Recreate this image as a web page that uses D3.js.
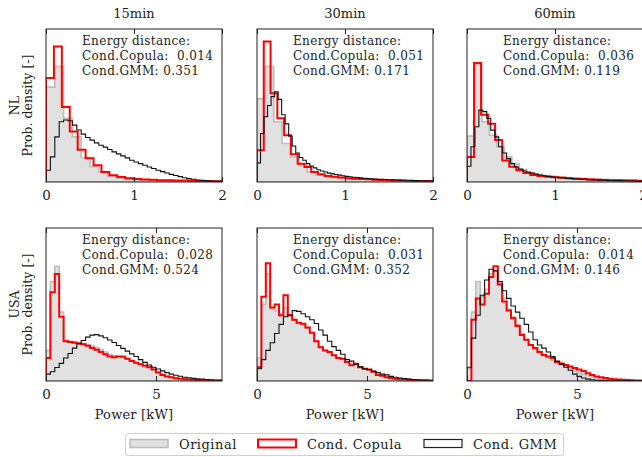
<!DOCTYPE html>
<html><head><meta charset="utf-8">
<script src="https://cdn.jsdelivr.net/npm/d3@7"></script>
<style>
body{margin:0;background:#fff}
svg{display:block}
text{font-family:"DejaVu Serif",serif;fill:#222;white-space:pre}
</style>
</head><body>
<svg id="chart" width="642" height="457"></svg>
<script>
// ---------------- DATA ----------------
const intervals = ["15min", "30min", "60min"];
const regions = ["NL", "USA"];
const seriesNames = ["Original", "Cond. Copula", "Cond. GMM"];
const copulaDistance = [[0.014, 0.051, 0.036], [0.028, 0.031, 0.014]];
const gmmDistance = [[0.351, 0.171, 0.119], [0.524, 0.352, 0.146]];
const xMaxByRegion = [2, 8];
const xTicksByRegion = [[0, 1, 2], [0, 5]];

// bin widths (kW)
const nlBinOrig = [0.1, 0.095, 0.085];
const nlBinCopula = [0.09, 0.077, 0.08];
const nlBinGmm = [0.05, 0.04, 0.045];
const usaBin = 0.2;

// densities (relative), bins start at 0
const nl15Orig = [0.62, 0.755, 0.416, 0.295, 0.16, 0.1, 0.066, 0.037, 0.025, 0.018, 0.015, 0.012, 0.011, 0.01, 0.009, 0.008, 0.007, 0.006, 0.005, 0.004];
const nl15Copula = [0.68, 0.886, 0.49, 0.33, 0.21, 0.155, 0.11, 0.066, 0.044, 0.033, 0.024, 0.02, 0.016, 0.014, 0.012, 0.011, 0.01, 0.009, 0.008, 0.007, 0.006, 0.005, 0.005];
const nl15Gmm = [0.077, 0.164, 0.295, 0.394, 0.405, 0.40, 0.372, 0.34, 0.313, 0.291, 0.274, 0.256, 0.24, 0.228, 0.212, 0.197, 0.184, 0.171, 0.158, 0.142, 0.131, 0.12, 0.109, 0.098, 0.088, 0.077, 0.068, 0.059, 0.05, 0.042, 0.035, 0.028, 0.022, 0.018, 0.013, 0.011, 0.009, 0.007, 0.004, 0.004];

const nl30Orig = [0.543, 0.755, 0.394, 0.252, 0.164, 0.109, 0.066, 0.044, 0.035, 0.028, 0.024, 0.02, 0.018, 0.016, 0.014, 0.012, 0.011, 0.01, 0.009, 0.008, 0.007, 0.006];
const nl30Copula = [0.208, 0.919, 0.58, 0.416, 0.306, 0.182, 0.12, 0.098, 0.066, 0.05, 0.04, 0.035, 0.03, 0.025, 0.022, 0.02, 0.018, 0.015, 0.013, 0.011, 0.01, 0.009, 0.008, 0.007, 0.006, 0.006, 0.005];
const nl30Gmm = [0.125, 0.317, 0.427, 0.5, 0.558, 0.59, 0.54, 0.44, 0.38, 0.3, 0.235, 0.19, 0.16, 0.142, 0.12, 0.105, 0.092, 0.08, 0.072, 0.065, 0.058, 0.053, 0.049, 0.045, 0.041, 0.037, 0.034, 0.031, 0.029, 0.027, 0.025, 0.023, 0.021, 0.019, 0.018, 0.017, 0.016, 0.015, 0.014, 0.013, 0.012, 0.011, 0.01, 0.01, 0.009, 0.009, 0.008, 0.008, 0.007, 0.007];

const nl60Orig = [0.30, 0.766, 0.394, 0.306, 0.23, 0.164, 0.12, 0.081, 0.06, 0.05, 0.042, 0.037, 0.033, 0.029, 0.026, 0.024, 0.022, 0.02, 0.018, 0.016, 0.015, 0.013, 0.012, 0.011, 0.01];
const nl60Copula = [0.164, 0.777, 0.44, 0.38, 0.274, 0.14, 0.1, 0.077, 0.059, 0.046, 0.04, 0.035, 0.031, 0.027, 0.024, 0.022, 0.02, 0.017, 0.015, 0.013, 0.012, 0.011, 0.01, 0.009, 0.007, 0.005];
const nl60Gmm = [0.103, 0.23, 0.361, 0.47, 0.46, 0.416, 0.339, 0.295, 0.23, 0.19, 0.153, 0.12, 0.098, 0.085, 0.072, 0.065, 0.058, 0.052, 0.046, 0.041, 0.037, 0.034, 0.031, 0.028, 0.026, 0.024, 0.022, 0.02, 0.018, 0.017, 0.015, 0.014, 0.013, 0.012, 0.011, 0.01, 0.01, 0.009, 0.009, 0.008, 0.008, 0.007, 0.007, 0.006, 0.006];

const usa15Orig = [0.2, 0.65, 0.75, 0.45, 0.267, 0.26, 0.256, 0.252, 0.245, 0.239, 0.228, 0.219, 0.206, 0.19, 0.173, 0.164, 0.158, 0.162, 0.147, 0.133, 0.118, 0.112, 0.103, 0.092, 0.077, 0.059, 0.042, 0.031, 0.024, 0.02, 0.015, 0.013, 0.011, 0.009, 0.007, 0.004, 0.004, 0.002, 0.002, 0.002];
const usa15Copula = [0.15, 0.58, 0.70, 0.42, 0.26, 0.255, 0.25, 0.245, 0.24, 0.23, 0.215, 0.205, 0.19, 0.175, 0.16, 0.155, 0.16, 0.158, 0.145, 0.13, 0.12, 0.11, 0.1, 0.09, 0.075, 0.055, 0.04, 0.03, 0.024, 0.018, 0.015, 0.012, 0.01, 0.008, 0.006, 0.004, 0.004, 0.003, 0.002, 0.002];
const usa15Gmm = [0.045, 0.06, 0.088, 0.115, 0.15, 0.18, 0.215, 0.243, 0.265, 0.287, 0.3, 0.303, 0.295, 0.283, 0.268, 0.252, 0.232, 0.213, 0.195, 0.177, 0.16, 0.14, 0.122, 0.105, 0.09, 0.078, 0.066, 0.055, 0.045, 0.038, 0.031, 0.025, 0.021, 0.017, 0.014, 0.012, 0.01, 0.008, 0.007, 0.006];

const usa30Orig = [0.15, 0.5, 0.7, 0.47, 0.46, 0.44, 0.48, 0.43, 0.40, 0.375, 0.37, 0.345, 0.31, 0.26, 0.225, 0.2, 0.19, 0.17, 0.152, 0.142, 0.125, 0.108, 0.108, 0.09, 0.08, 0.072, 0.058, 0.042, 0.035, 0.026, 0.02, 0.015, 0.012, 0.01, 0.008, 0.006, 0.005, 0.004, 0.003, 0.002];
const usa30Copula = [0.09, 0.55, 0.77, 0.48, 0.5, 0.43, 0.56, 0.43, 0.40, 0.38, 0.375, 0.35, 0.315, 0.26, 0.22, 0.2, 0.19, 0.168, 0.15, 0.145, 0.125, 0.103, 0.112, 0.09, 0.08, 0.075, 0.06, 0.04, 0.035, 0.025, 0.02, 0.015, 0.012, 0.01, 0.008, 0.006, 0.005, 0.004, 0.003, 0.002];
const usa30Gmm = [0.08, 0.14, 0.2, 0.25, 0.31, 0.37, 0.42, 0.43, 0.46, 0.455, 0.44, 0.42, 0.4, 0.376, 0.333, 0.3, 0.26, 0.225, 0.2, 0.175, 0.14, 0.13, 0.11, 0.092, 0.08, 0.075, 0.065, 0.055, 0.045, 0.04, 0.03, 0.025, 0.02, 0.016, 0.012, 0.01, 0.008, 0.007, 0.006, 0.005];

const usa60Orig = [0.08, 0.45, 0.65, 0.55, 0.6, 0.7, 0.72, 0.64, 0.54, 0.47, 0.42, 0.37, 0.31, 0.27, 0.235, 0.21, 0.185, 0.165, 0.15, 0.135, 0.12, 0.105, 0.095, 0.085, 0.07, 0.055, 0.045, 0.035, 0.027, 0.02, 0.015, 0.012, 0.009, 0.007, 0.005, 0.004, 0.003, 0.002, 0.002, 0.001];
const usa60Copula = [0.0, 0.4, 0.54, 0.5, 0.57, 0.68, 0.75, 0.63, 0.52, 0.46, 0.41, 0.36, 0.3, 0.27, 0.235, 0.215, 0.19, 0.17, 0.16, 0.15, 0.125, 0.115, 0.105, 0.095, 0.085, 0.075, 0.065, 0.05, 0.04, 0.03, 0.024, 0.02, 0.015, 0.012, 0.01, 0.008, 0.006, 0.005, 0.004, 0.003];
const usa60Gmm = [0.09, 0.28, 0.43, 0.56, 0.66, 0.73, 0.72, 0.65, 0.59, 0.54, 0.49, 0.45, 0.41, 0.37, 0.32, 0.27, 0.235, 0.215, 0.19, 0.16, 0.13, 0.11, 0.09, 0.07, 0.045, 0.03, 0.02, 0.012, 0.008, 0.005, 0.004, 0.003, 0.002, 0.002, 0.001, 0.001, 0.001, 0.001, 0.001, 0.001];

const histData = [
  [
    {orig: [nlBinOrig[0], nl15Orig], cop: [nlBinCopula[0], nl15Copula], gmm: [nlBinGmm[0], nl15Gmm]},
    {orig: [nlBinOrig[1], nl30Orig], cop: [nlBinCopula[1], nl30Copula], gmm: [nlBinGmm[1], nl30Gmm]},
    {orig: [nlBinOrig[2], nl60Orig], cop: [nlBinCopula[2], nl60Copula], gmm: [nlBinGmm[2], nl60Gmm]}
  ],
  [
    {orig: [usaBin, usa15Orig], cop: [usaBin, usa15Copula], gmm: [usaBin, usa15Gmm]},
    {orig: [usaBin, usa30Orig], cop: [usaBin, usa30Copula], gmm: [usaBin, usa30Gmm]},
    {orig: [usaBin, usa60Orig], cop: [usaBin, usa60Copula], gmm: [usaBin, usa60Gmm]}
  ]
];

// ---------------- LAYOUT ----------------
const svg = d3.select("#chart");
const colX = [46, 257, 467];
const rowY = [29, 228];
const pw = 176, ph = 153;
const yTop = 1.0;

function stepPoints(bw, vals) {
  const pts = [[0, 0]];
  vals.forEach((v, i) => { pts.push([i * bw, v]); pts.push([(i + 1) * bw, v]); });
  pts.push([vals.length * bw, 0]);
  return pts;
}

const defs = svg.append("defs");

regions.forEach((reg, r) => {
  intervals.forEach((intv, c) => {
    const x0 = colX[c], y0 = rowY[r];
    const x = d3.scaleLinear().domain([0, xMaxByRegion[r]]).range([x0, x0 + pw]);
    const y = d3.scaleLinear().domain([0, yTop]).range([y0 + ph, y0]);
    const clipId = `clip-${r}-${c}`;
    defs.append("clipPath").attr("id", clipId)
      .append("rect").attr("x", x0).attr("y", y0).attr("width", pw).attr("height", ph);

    const g = svg.append("g").attr("clip-path", `url(#${clipId})`);
    const line = d3.line().x(d => x(d[0])).y(d => y(d[1]));
    const hd = histData[r][c];

    g.append("path").attr("d", line(stepPoints(hd.orig[0], hd.orig[1])) + "Z")
      .attr("fill", "#e1e1e1").attr("stroke", "#bdbdbd").attr("stroke-width", 1.6);
    g.append("path").attr("d", line(stepPoints(hd.cop[0], hd.cop[1])))
      .attr("fill", "none").attr("stroke", "#ff0000").attr("stroke-width", 2);
    g.append("path").attr("d", line(stepPoints(hd.gmm[0], hd.gmm[1])))
      .attr("fill", "none").attr("stroke", "#111").attr("stroke-width", 1.1);

    svg.append("rect").attr("x", x0).attr("y", y0).attr("width", pw).attr("height", ph)
      .attr("fill", "none").attr("stroke", "#222").attr("stroke-width", 1);

    const ticks = xTicksByRegion[r];
    const axB = d3.axisBottom(x).tickValues(ticks).tickSize(-5).tickPadding(8).tickFormat(d3.format("d"));
    const gb = svg.append("g").attr("transform", `translate(0,${y0 + ph})`).call(axB);
    gb.select(".domain").remove();
    gb.selectAll("line").attr("stroke", "#222");
    gb.selectAll("text").attr("font-size", 13.5).attr("font-family", "DejaVu Serif").attr("fill", "#222");
    const axT = d3.axisTop(x).tickValues(ticks).tickSize(-5).tickFormat("");
    const gt = svg.append("g").attr("transform", `translate(0,${y0})`).call(axT);
    gt.select(".domain").remove();
    gt.selectAll("line").attr("stroke", "#222");

    const tx = x0 + 36;
    const tg = svg.append("g").attr("font-size", 12).attr("letter-spacing", 0.35);
    tg.append("text").attr("x", tx).attr("y", y0 + 16).text("Energy distance:");
    tg.append("text").attr("x", tx).attr("y", y0 + 31).text(`Cond.Copula:  ${copulaDistance[r][c].toFixed(3)}`);
    tg.append("text").attr("x", tx).attr("y", y0 + 46).text(`Cond.GMM: ${gmmDistance[r][c].toFixed(3)}`);

    if (r === 0) {
      svg.append("text").attr("x", x0 + pw / 2).attr("y", 18).attr("text-anchor", "middle")
        .attr("font-size", 13).text(intv);
    }
    if (r === regions.length - 1) {
      svg.append("text").attr("x", x0 + pw / 2).attr("y", 419).attr("text-anchor", "middle")
        .attr("font-size", 13).attr("letter-spacing", 0.2).text("Power [kW]");
    }
    if (c === 0) {
      const cy = y0 + ph / 2;
      svg.append("text").attr("transform", `translate(19,${cy}) rotate(-90)`)
        .attr("text-anchor", "middle").attr("font-size", 12.5).text(reg);
      svg.append("text").attr("transform", `translate(32,${cy}) rotate(-90)`)
        .attr("text-anchor", "middle").attr("font-size", 12.5).text("Prob. density [-]");
    }
  });
});

// ---------------- LEGEND ----------------
const lg = svg.append("g");
lg.append("rect").attr("x", 125.5).attr("y", 433.5).attr("width", 438).attr("height", 22).attr("rx", 3)
  .attr("fill", "#fff").attr("stroke", "#d0d0d0").attr("stroke-width", 1);
const legendX = [130, 258, 424];
const legendStyles = [
  {fill: "#e1e1e1", stroke: "#bdbdbd", sw: 1.6},
  {fill: "none", stroke: "#ff0000", sw: 2},
  {fill: "none", stroke: "#222", sw: 1.2}
];
seriesNames.forEach((name, i) => {
  lg.append("rect").attr("x", legendX[i]).attr("y", 439.5).attr("width", 38).attr("height", 8)
    .attr("fill", legendStyles[i].fill).attr("stroke", legendStyles[i].stroke).attr("stroke-width", legendStyles[i].sw);
  lg.append("text").attr("x", legendX[i] + 49).attr("y", 448.5).attr("font-size", 13)
    .attr("letter-spacing", 0.5).text(name);
});
</script>
</body></html>
